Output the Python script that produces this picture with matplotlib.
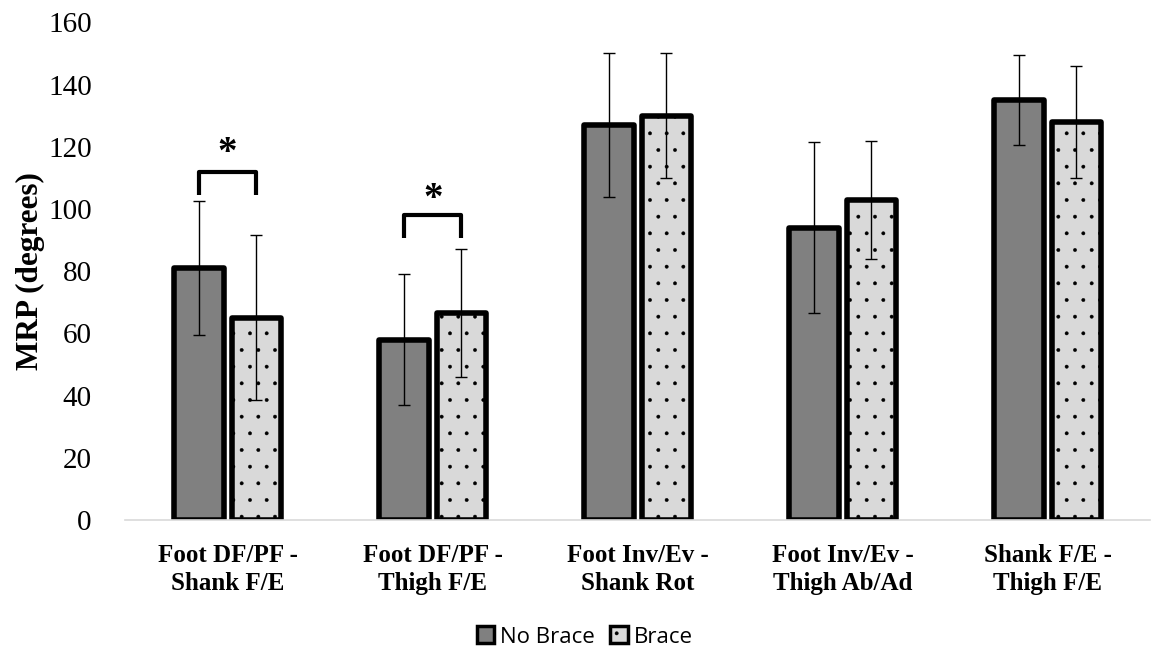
import numpy as np
import matplotlib.pyplot as plt
from matplotlib.patches import Patch

# データ
categories = ["Foot DF/PF -\nShank F/E", "Foot DF/PF -\nThigh F/E", "Foot Inv/Ev -\nShank Rot",
              "Foot Inv/Ev -\nThigh Ab/Ad", "Shank F/E -\nThigh F/E"]
no_brace = [81, 58, 127, 94, 135]
no_brace_sd = [21.5, 21, 23, 27.5, 14.5]
brace = [65, 66.5, 130, 103, 128]
brace_sd = [26.5, 20.5, 20, 19, 18]

# 有意差ブラケット (カテゴリ番号, 上端, 下端, アスタリスク位置)
sig_groups = [0, 1]
sig_top = [112, 98]
sig_bottom = [104.5, 90.7]
sig_star = [118, 103]

plt.rcParams["hatch.linewidth"] = 0.3
plt.rcParams["hatch.color"] = "black"

fig = plt.figure(figsize=(11.69, 6.56), dpi=100)
ax = fig.add_axes([0.107, 0.207, 0.877, 0.759])

x = np.arange(len(categories))
w = 0.24
off = 0.14

ax.bar(x - off, no_brace, w, color="#808080", edgecolor="black", linewidth=4, joinstyle="round", zorder=2)
ax.bar(x + off, brace, w, color="#d9d9d9", edgecolor="black", linewidth=4, hatch=".", joinstyle="round", zorder=2)
ax.errorbar(x - off, no_brace, yerr=no_brace_sd, fmt="none", ecolor="black", elinewidth=1, capsize=4.5, capthick=1, zorder=3)
ax.errorbar(x + off, brace, yerr=brace_sd, fmt="none", ecolor="black", elinewidth=1, capsize=4.5, capthick=1, zorder=3)

# ブラケット
for g, t, b, s in zip(sig_groups, sig_top, sig_bottom, sig_star):
    ax.plot([g - off, g - off, g + off, g + off], [b, t, t, b], color="black", lw=3,
            solid_joinstyle="round", solid_capstyle="butt", zorder=4)
    ax.text(g, s, "*", ha="center", va="center", fontsize=28, fontweight="bold",
            family="Liberation Serif")

ax.set_xlim(-0.5, 4.5)
ax.set_ylim(0, 160)
ax.set_yticks(range(0, 161, 20))
ax.set_xticks(x)
ax.set_xticklabels(categories, family="Liberation Serif", fontweight="bold", fontsize=18,
                   linespacing=1.3)
for lab in ax.get_yticklabels():
    lab.set_family("Liberation Serif")
    lab.set_fontsize(21)
ax.tick_params(axis="both", length=0)
ax.tick_params(axis="y", pad=24)
ax.tick_params(axis="x", pad=17)
for sp in ["top", "right", "left"]:
    ax.spines[sp].set_visible(False)
ax.spines["bottom"].set_color("#d9d9d9")
ax.spines["bottom"].set_linewidth(1.2)
ax.set_ylabel("MRP (degrees)", family="Liberation Serif", fontweight="bold", fontsize=22.5, labelpad=2)

handles = [Patch(facecolor="#808080", edgecolor="black", linewidth=2.5),
           Patch(facecolor="#d9d9d9", edgecolor="black", linewidth=2.5, hatch=".")]
fig.legend(handles, ["No Brace", "Brace"], loc="center", bbox_to_anchor=(0.5, 0.029), ncol=2,
           frameon=False, prop={"family": "Open Sans", "size": 16}, handlelength=0.8, handleheight=0.8,
           handletextpad=0.25, columnspacing=0.7)

fig.savefig("out.png", dpi=100)
